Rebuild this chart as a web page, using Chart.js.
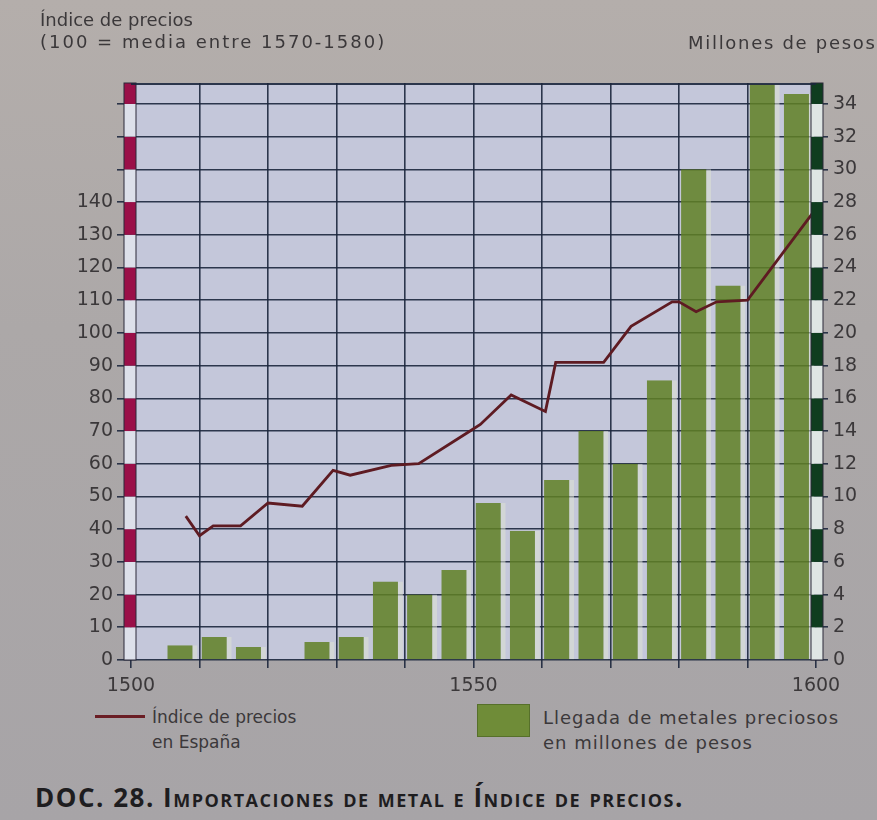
<!DOCTYPE html>
<html>
<head>
<meta charset="utf-8">
<script src="https://cdn.jsdelivr.net/npm/chart.js@4.4.1/dist/chart.umd.min.js"></script>
<style>
html, body { margin: 0; padding: 0; }
body {
    width: 877px; height: 820px; position: relative; overflow: hidden;
    background: linear-gradient(180deg, #b4aeab 0%, #aca8a8 40%, #a7a4a7 100%);
    font-family: 'DejaVu Sans', sans-serif; color: #3b383a;
}
#wrap { position: absolute; left: 0; top: 0; width: 877px; height: 700px; }
.txt { position: absolute; white-space: nowrap; }
#hdrLeft { left: 40px; top: 9px; font-size: 18px; line-height: 22px; }
#hdrLeft span { letter-spacing: 2px; }
#hdrRight { left: 688px; top: 32px; font-size: 18px; letter-spacing: 1.7px; }
#legLine { position: absolute; left: 95px; top: 715px; width: 50px; height: 3px; background: #6a1d24; }
#legTxt1 { left: 152px; top: 705px; font-size: 17px; line-height: 25px; }
#legBox { position: absolute; left: 477px; top: 704px; width: 53px; height: 33px; background: #6f8c38; border: 1px solid #56702a; box-sizing: border-box; }
#legTxt2 { left: 543px; top: 705px; font-size: 18px; line-height: 25px; letter-spacing: 1px; }
#title { left: 35px; top: 779px; font-family: 'Open Sans', sans-serif; font-weight: 700; font-size: 26px; font-variant: small-caps; color: #1e1d1f; letter-spacing: 1.5px; }
</style>
</head>
<body>
<div id="wrap"><canvas id="chart" width="877" height="700"></canvas></div>
<div class="txt" id="hdrLeft">Índice de precios<br><span>(100 = media entre 1570-1580)</span></div>
<div class="txt" id="hdrRight">Millones de pesos</div>
<div id="legLine"></div>
<div class="txt" id="legTxt1">Índice de precios<br>en España</div>
<div id="legBox"></div>
<div class="txt" id="legTxt2">Llegada de metales preciosos<br>en millones de pesos</div>
<div class="txt" id="title">DOC. 28. Importaciones de metal e Índice de precios.</div>

<script>
// 5-year periods (start year) for the imports bars
const periods = ['1500', '1505', '1510', '1515', '1520', '1525', '1530', '1535', '1540', '1545',
                 '1550', '1555', '1560', '1565', '1570', '1575', '1580', '1585', '1590', '1595'];
// arrivals of precious metals, millions of pesos (right axis)
const metals = [null, 0.9, 1.4, 0.8, null, 1.1, 1.4, 4.8, 4.0, 5.5,
                9.6, 7.9, 11.0, 14.0, 12.0, 17.1, 30.0, 22.9, 35.2, 34.6];

// price index in Spain (left axis)
const priceYears = [1508, 1510, 1512, 1516, 1520, 1525, 1529.5, 1532, 1538, 1542, 1549.5, 1551,
                    1555.5, 1560.5, 1562, 1569, 1573, 1579, 1580, 1582.5, 1585.5, 1590, 1600];
const priceIndex = [44, 38, 41, 41, 48, 47, 58, 56.5, 59.5, 60, 70, 72,
                    81, 76, 91, 91, 102, 109.5, 109.5, 106.5, 109.5, 110, 138];

const yearTicks = [1500, 1510, 1520, 1530, 1540, 1550, 1560, 1570, 1580, 1590, 1600];
const yearLabels = [1500, 1550, 1600];
const indexTicks = [0, 10, 20, 30, 40, 50, 60, 70, 80, 90, 100, 110, 120, 130, 140, 150, 160, 170];
const pesoTicks = [0, 2, 4, 6, 8, 10, 12, 14, 16, 18, 20, 22, 24, 26, 28, 30, 32, 34];

const INDEX_MAX = 176.4;
const PESO_MAX = INDEX_MAX / 5;
const gridColor = 'rgba(28, 38, 60, 0.9)';
const tickFont = { family: 'DejaVu Sans', size: 19 };

// plot background, striped axis bars and top border
const decor = {
    id: 'decor',
    beforeDraw(chart) {
        const a = chart.chartArea, ctx = chart.ctx;
        ctx.save();
        ctx.fillStyle = '#c4c7da';
        ctx.fillRect(a.left, a.top, a.right - a.left, a.bottom - a.top);
        ctx.restore();
    },
    afterDraw(chart) {
        const a = chart.chartArea, ctx = chart.ctx;
        const drawStrip = (scale, x, step, dark, light) => {
            ctx.save();
            for (let v = 0; v < scale.max; v += step) {
                const y1 = scale.getPixelForValue(v);
                const y2 = scale.getPixelForValue(Math.min(v + step, scale.max));
                ctx.fillStyle = (Math.round(v / step) % 2 === 1) ? dark : light;
                ctx.fillRect(x - 6, y2, 12, y1 - y2);
            }
            ctx.strokeStyle = '#2a2838';
            ctx.lineWidth = 1;
            ctx.strokeRect(x - 6, a.top, 12, a.bottom - a.top);
            ctx.restore();
        };
        drawStrip(chart.scales.y, a.left - 1, 10, '#9a0f48', '#dde0ea');
        drawStrip(chart.scales.yR, a.right + 1, 2, '#0f3d1f', '#dfe6e4');
        ctx.save();
        ctx.strokeStyle = gridColor;
        ctx.lineWidth = 2;
        ctx.beginPath();
        ctx.moveTo(a.left, a.top + 1);
        ctx.lineTo(a.right, a.top + 1);
        ctx.stroke();
        ctx.restore();
    }
};

const ctx = document.getElementById('chart').getContext('2d');
new Chart(ctx, {
    data: {
        labels: periods,
        datasets: [{
            type: 'line',
            label: 'Índice de precios en España',
            data: priceYears.map((yr, i) => ({ x: yr, y: priceIndex[i] })),
            xAxisID: 'xl',
            yAxisID: 'y',
            borderColor: '#5e1b22',
            borderWidth: 2.8,
            pointRadius: 0,
            tension: 0,
            order: 0
        }, {
            type: 'bar',
            label: 'Llegada de metales preciosos en millones de pesos',
            data: metals,
            xAxisID: 'x',
            yAxisID: 'yR',
            grouped: false,
            backgroundColor: 'rgba(96, 128, 36, 0.85)',
            borderColor: 'rgba(222, 226, 212, 0.55)',
            borderWidth: { left: 0, right: 5, top: 0, bottom: 0 },
            borderSkipped: false,
            categoryPercentage: 1,
            barPercentage: 0.88,
            order: 1
        }]
    },
    options: {
        responsive: false,
        animation: false,
        layout: { padding: { top: 83, left: 0, right: 0, bottom: 0 } },
        plugins: { legend: { display: false }, tooltip: { enabled: false } },
        scales: {
            x: { type: 'category', display: false, offset: true },
            xl: {
                type: 'linear', position: 'bottom', min: 1500, max: 1600,
                afterBuildTicks: s => { s.ticks = yearTicks.map(v => ({ value: v })); },
                afterFit: s => { s.height = 40; },
                grid: { color: gridColor, lineWidth: 1.6, tickLength: 8 },
                border: { display: false },
                ticks: {
                    maxRotation: 0, autoSkip: false, padding: 7, color: '#3b383a', font: tickFont,
                    callback: v => yearLabels.includes(v) ? String(v) : ''
                }
            },
            y: {
                type: 'linear', position: 'left', min: 0, max: INDEX_MAX,
                afterBuildTicks: s => { s.ticks = indexTicks.map(v => ({ value: v })); },
                afterFit: s => { s.width = 131; },
                grid: { color: gridColor, lineWidth: 1.6, tickLength: 14 },
                border: { display: false },
                ticks: {
                    padding: 4, color: '#3b383a', font: tickFont,
                    callback: v => v <= 140 ? String(v) : ''
                }
            },
            yR: {
                type: 'linear', position: 'right', min: 0, max: PESO_MAX,
                afterBuildTicks: s => { s.ticks = pesoTicks.map(v => ({ value: v })); },
                afterFit: s => { s.width = 61; },
                grid: { drawOnChartArea: false, color: gridColor, lineWidth: 1.6, tickLength: 12 },
                border: { display: false },
                ticks: { padding: 5, color: '#3b383a', font: tickFont, callback: v => String(v) }
            }
        }
    },
    plugins: [decor]
});
</script>
</body>
</html>
